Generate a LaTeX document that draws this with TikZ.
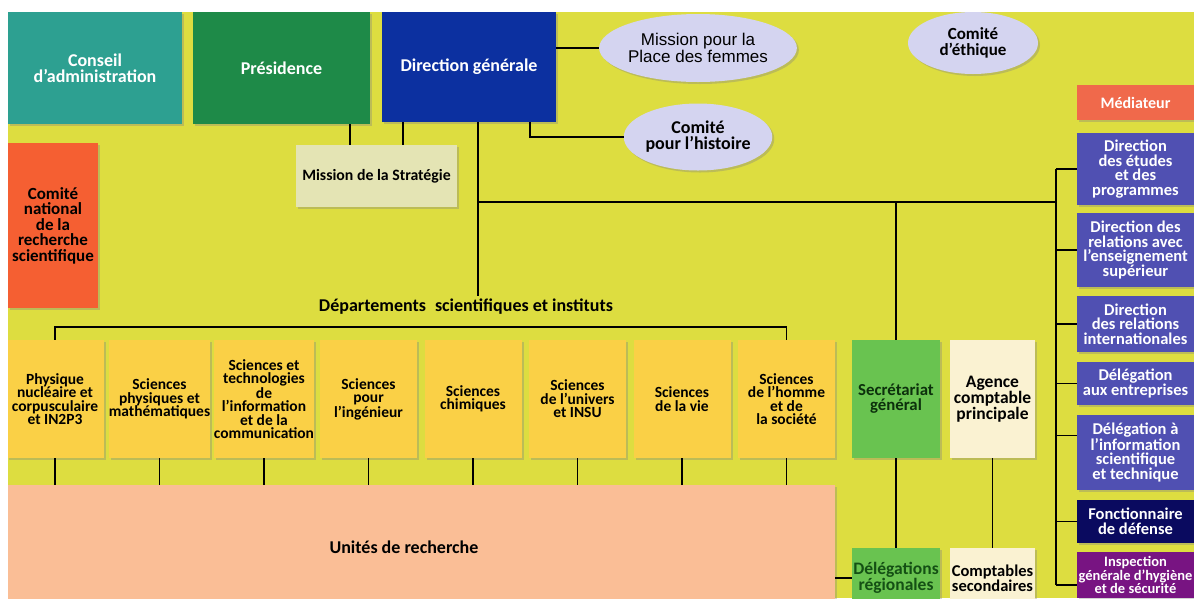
\documentclass[tikz,border=0pt]{standalone}
\usepackage{fontspec}
\setmainfont{Carlito}
\newfontfamily\ellfont{Liberation Sans}
\usetikzlibrary{shapes.geometric,shadows}
\definecolor{fond}{RGB}{221,221,64}
\definecolor{cacol}{RGB}{45,160,145}
\definecolor{prescol}{RGB}{30,138,72}
\definecolor{dgcol}{RGB}{12,48,160}
\definecolor{stratcol}{RGB}{228,228,180}
\definecolor{cncol}{RGB}{245,95,50}
\definecolor{ellcol}{RGB}{212,212,240}
\definecolor{medcol}{RGB}{240,105,75}
\definecolor{dircol}{RGB}{80,80,178}
\definecolor{defcol}{RGB}{10,10,95}
\definecolor{hygcol}{RGB}{120,20,130}
\definecolor{depcol}{RGB}{250,208,70}
\definecolor{urcol}{RGB}{250,190,150}
\definecolor{sgcol}{RGB}{105,195,80}
\definecolor{crcol}{RGB}{250,242,210}
\definecolor{vert}{RGB}{20,80,20}
\begin{document}
\begin{tikzpicture}[x=1pt,y=-1pt,
  taille/.style 2 args={font=\bfseries\fontsize{#1}{#2}\selectfont},
  boite/.style={rectangle,inner sep=0,align=center,drop shadow={shadow xshift=2pt,shadow yshift=-2pt,opacity=0.35}},
  bulle/.style={ellipse,fill=ellcol,inner sep=0,align=center,drop shadow={shadow xshift=2pt,shadow yshift=-2pt,opacity=0.35}},
  lien/.style={line width=1.8pt}]
\useasboundingbox (0,0) rectangle (1194,598);
\fill[white] (0,0) rectangle (1194,598);
\fill[fond] (8,12) rectangle (1194,598);
\clip (8,12) rectangle (1194,598);
\node[boite,taille={18}{16},fill=cacol,text=white,minimum width=174pt,minimum height=112pt] (ca) at (95,68) {Conseil\\d'administration};
\node[boite,taille={18}{16},fill=prescol,text=white,minimum width=177pt,minimum height=112pt] (pres) at (281.5,68) {Présidence};
\node[boite,taille={18}{16},fill=dgcol,text=white,minimum width=174pt,minimum height=110pt] (dg) at (469,67) {Direction générale};
\node[boite,taille={15.8}{15},fill=stratcol,minimum width=161pt,minimum height=62pt] (strat) at (376.5,176) {Mission de la Stratégie};
\node[boite,taille={17}{15.5},fill=cncol,minimum width=90pt,minimum height=165pt] (cn) at (53,225.5) {Comité\\national\\de la\\recherche\\scientifique};
\node[bulle,font=\ellfont\fontsize{17}{15}\selectfont,minimum width=147pt,minimum height=68pt] (femmes) at (698,48) {Mission pour la\\Place des femmes};
\node[bulle,taille={18}{16},minimum width=147pt,minimum height=67pt] (histoire) at (698,137) {Comité\\pour l'histoire};
\node[bulle,taille={17}{16},minimum width=130pt,minimum height=62pt] (ethique) at (973,43) {Comité\\d'éthique};
\node[boite,taille={16}{15},fill=medcol,text=white,minimum width=117pt,minimum height=35pt] (med) at (1135.5,102.5) {Médiateur};
\node[boite,taille={16.5}{14.7},fill=dircol,text=white,minimum width=117pt,minimum height=72pt] (etudes) at (1135.5,169) {Direction\\des études\\et des\\programmes};
\node[boite,taille={16.5}{14.7},fill=dircol,text=white,minimum width=117pt,minimum height=74pt] (enssup) at (1135.5,250) {Direction des\\relations avec\\l'enseignement\\supérieur};
\node[boite,taille={16.5}{14.7},fill=dircol,text=white,minimum width=117pt,minimum height=56pt] (intl) at (1135.5,324) {Direction\\des relations\\internationales};
\node[boite,taille={16.5}{14.7},fill=dircol,text=white,minimum width=117pt,minimum height=43pt] (entr) at (1135.5,383.5) {Délégation\\aux entreprises};
\node[boite,taille={16.5}{14.7},fill=dircol,text=white,minimum width=117pt,minimum height=75pt] (ist) at (1135.5,452.5) {Délégation à\\l'information\\scientifique\\et technique};
\node[boite,taille={16.5}{14.7},fill=defcol,text=white,minimum width=117pt,minimum height=43pt] (def) at (1135.5,521.5) {Fonctionnaire\\de défense};
\node[boite,taille={14.5}{13.5},fill=hygcol,text=white,minimum width=117pt,minimum height=46pt] (hyg) at (1135.5,575) {Inspection\\générale d'hygiène\\et de sécurité};
\node[taille={18}{18}] (deptitre) at (466,307) {Départements\enspace scientifiques et instituts};
\foreach \t [count=\i] in {{Physique\\nucléaire et\\corpusculaire\\et IN2P3},{Sciences\\physiques et\\mathématiques},{Sciences et\\technologies\\de\\l'information\\et de la\\communication},{Sciences\\pour\\l'ingénieur},{Sciences\\chimiques},{Sciences\\de l'univers\\et INSU},{Sciences\\de la vie},{Sciences\\de l'homme\\et de\\la société}}
  \node[boite,taille={15.5}{13.5},fill=depcol,minimum width=97pt,minimum height=118pt] (dep\i) at ({55+104.5*(\i-1)},399) {\t};
\node[boite,fill=urcol,minimum width=827pt,minimum height=125pt] (unites) at (421.5,547.5) {};
\node[taille={18}{18}] (ur) at (404,547) {Unités de recherche};
\node[boite,taille={16.8}{15},fill=sgcol,text=vert!60!black,minimum width=88pt,minimum height=118pt] (secgen) at (896,399) {Secrétariat\\général};
\node[boite,taille={17.5}{15},fill=crcol,minimum width=85pt,minimum height=118pt] (agence) at (992.5,399) {Agence\\comptable\\principale};
\node[boite,taille={17.5}{15},fill=sgcol,text=vert,minimum width=88pt,minimum height=60pt] (delreg) at (896,578) {Délégations\\régionales};
\node[boite,taille={16.5}{15},fill=crcol,minimum width=85pt,minimum height=60pt] (compt) at (992.5,578) {Comptables\\secondaires};
\coordinate (t1) at (478,202);
\coordinate (spine) at (1056,202);
\coordinate (s1) at (350,0);
\coordinate (s2) at (403,0);
\coordinate (h1) at (530,0);
\coordinate (barre) at (0,327);
\coordinate (hb) at ([yshift=-10pt]hyg.west);
\coordinate (ib) at ([yshift=17pt]ist.west);
\draw[lien] (pres.south -| s1) -- (strat.north -| s1);
\draw[lien] (dg.south -| s2) -- (strat.north -| s2);
\draw[lien] (dg.east |- femmes.west) -- (femmes.west);
\draw[lien] (dg.south -| h1) |- (histoire.west);
\draw[lien] (dg.south -| t1) -- (deptitre.north -| t1);
\draw[lien] (t1) -- (spine);
\draw[lien] (secgen.north) -- (secgen.north |- t1);
\draw[lien] (etudes.west -| spine) -- (hb -| spine);
\foreach \n in {etudes,enssup,intl,entr,def}
  \draw[lien] (\n.west) -- (\n.west -| spine);
\draw[lien] (ib) -- (ib -| spine);
\draw[lien] (hb) -- (hb -| spine);
\draw[lien] (dep1.north) -- (dep1.north |- barre) -- (dep8.north |- barre) -- (dep8.north);
\foreach \i in {1,...,8}
  \draw[lien] (dep\i.south) -- (dep\i.south |- unites.north);
\draw[lien] (secgen.south) -- (delreg.north);
\draw[lien] (agence.south) -- (compt.north);
\draw[lien] (delreg.west) -- (delreg.west -| unites.east);
\end{tikzpicture}
\end{document}
